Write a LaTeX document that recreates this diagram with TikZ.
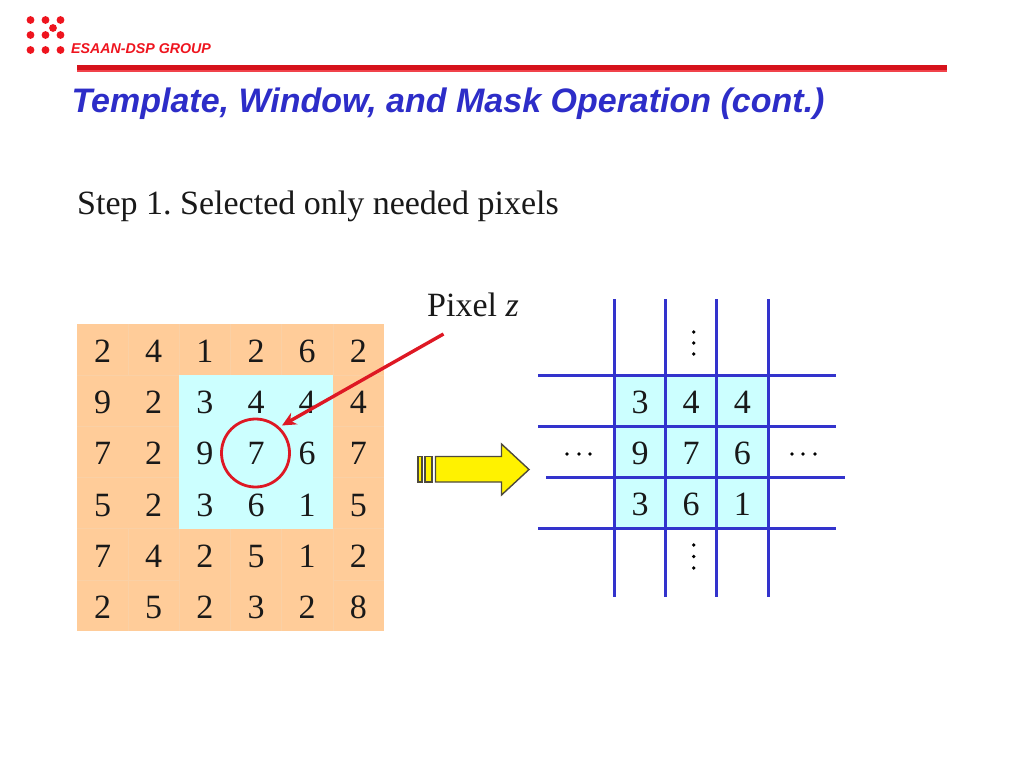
\documentclass[tikz,border=0pt]{standalone}
\usepackage{fontspec}
\setmainfont{Liberation Serif}
\newfontfamily\headfont{Liberation Sans}
\usetikzlibrary{arrows.meta}
\frenchspacing
\definecolor{cellorange}{RGB}{255,204,153}
\definecolor{celledge}{RGB}{250,208,165}
\definecolor{cellcyan}{RGB}{204,255,255}
\definecolor{gridblue}{RGB}{51,51,204}
\definecolor{titleblue}{RGB}{45,45,200}
\definecolor{logored}{RGB}{238,20,30}
\definecolor{circred}{RGB}{222,24,36}
\tikzset{
  digit/.style={inner sep=0pt,font=\fontsize{34}{34}\selectfont,text=black!90},
  gridline/.style={draw=gridblue,line width=3pt},
  logodot/.style={circle,fill=logored,inner sep=0pt,minimum size=7.8pt},
  pointer/.style={draw=circred,line width=3.4pt,-{Stealth[length=14pt,width=13pt]}},
  blockarrow/.style={draw=black!80!yellow,line width=1.4pt,fill=yellow},
  elldot/.style={circle,fill=black,inner sep=0pt,minimum size=3.8pt},
}
\begin{document}
\begin{tikzpicture}[x=1pt,y=-1pt]
\useasboundingbox (0,0) rectangle (1024,768);
% logo
\foreach \nx/\px in {a/30.5,b/45.5,c/60.5}
  \foreach \ny/\py in {a/20,b/35,c/50}
    \node[logodot] (dot\nx\ny) at (\px,\py) {};
\node[logodot] (dotm) at (53,28) {};
\node[anchor=base west,inner sep=0pt,text=logored,font=\headfont\bfseries\itshape\fontsize{14.2}{15}\selectfont] (group) at (71,54) {ESAAN-DSP GROUP};
% rule
\fill[logored!90!black] (77,65) rectangle (947,69.6);
\fill[logored!80!white] (77,70) rectangle (947,72);
% title
\node[anchor=base west,inner sep=0pt,text=titleblue,font=\headfont\bfseries\itshape\fontsize{34}{36}\selectfont] (title) at (71.5,112) {Template, Window, and Mask Operation (cont.)};
\node[anchor=base west,inner sep=0pt,font=\fontsize{34}{36}\selectfont,text=black!90] (step) at (77,214.5) {Step 1. Selected only needed pixels};
% left table
\fill[cellorange] (77,324) rectangle (384,631);
\fill[cellcyan] (179.3,375.2) rectangle (332.8,528.7);
\foreach \i in {1,...,5} {
  \draw[celledge,line width=0.6pt] ({77+\i*51.17},324) -- ({77+\i*51.17},375);
  \draw[celledge,line width=0.6pt] ({77+\i*51.17},529) -- ({77+\i*51.17},631);
  \draw[celledge,line width=0.6pt] (77,{324+\i*51.17}) -- (179,{324+\i*51.17});
  \draw[celledge,line width=0.6pt] (333,{324+\i*51.17}) -- (384,{324+\i*51.17});
}
\foreach \row/\vals in {0/{2,4,1,2,6,2},1/{9,2,3,4,4,4},2/{7,2,9,7,6,7},3/{5,2,3,6,1,5},4/{7,4,2,5,1,2},5/{2,5,2,3,2,8}} {
  \foreach \v [count=\c from 0] in \vals {
    \node[digit,anchor=base] (L\row\c) at ({102.5+\c*51.17},{362.5+\row*51.17}) {\v};
  }
}
% right grid
\fill[cellcyan] (614.5,375.5) rectangle (768.5,529.5);
\foreach \x in {614.5,665.5,716.5,768.5}
  \draw[gridline] (\x,299) -- (\x,597);
\draw[gridline] (538,375.5) -- (836,375.5);
\draw[gridline] (538,426.5) -- (836,426.5);
\draw[gridline] (546,477.5) -- (845,477.5);
\draw[gridline] (538,528.5) -- (836,528.5);
\foreach \row/\vals in {0/{3,4,4},1/{9,7,6},2/{3,6,1}} {
  \foreach \v [count=\c from 0] in \vals {
    \node[digit,anchor=base] (R\row\c) at ({640+\c*51.2},{413.5+\row*51.17}) {\v};
  }
}
% ellipses
\foreach \py [count=\k] in {332,343,354}
  \node[elldot] (vt\k) at (693.7,\py) {};
\foreach \py [count=\k] in {545,556.5,568}
  \node[elldot] (vb\k) at (693.7,\py) {};
\foreach \px [count=\k] in {567,579,590,792,803,815}
  \node[elldot] (hd\k) at (\px,454) {};
% block arrow
\draw[blockarrow] (418,456.5) rectangle (422,482);
\draw[blockarrow] (425,456.5) rectangle (432,482);
\draw[blockarrow] (435.5,456.5) -- (501.5,456.5) -- (501.5,444) -- (529,469.5) -- (501.5,495) -- (501.5,482) -- (435.5,482) -- cycle;
% pixel label and pointer
\node[anchor=base west,inner sep=0pt,font=\fontsize{34}{36}\selectfont,text=black!90] (pixel) at (427,316) {Pixel \textit{z}};
\node[circle,draw=circred,line width=2.8pt,minimum size=68pt,inner sep=0pt] (ring) at (255.5,453) {};
\coordinate (pstart) at (443.5,334);
\draw[pointer] (pstart) -- (282,425.5);
\end{tikzpicture}
\end{document}
